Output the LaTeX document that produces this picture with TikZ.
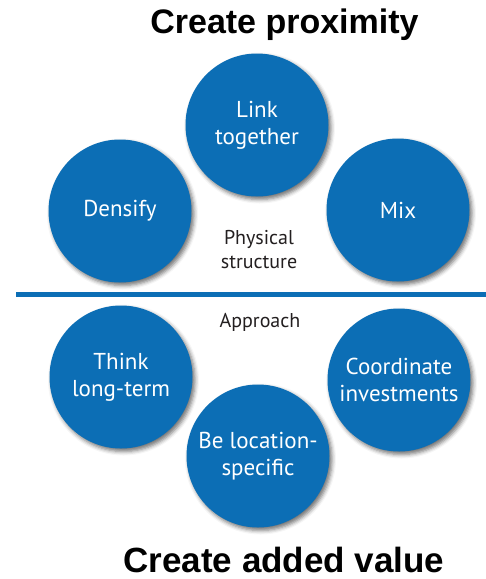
\documentclass[tikz,border=0pt]{standalone}
\usepackage{fontspec}
\setmainfont{PT Sans}
\newfontfamily\headfont{Liberation Sans}
\usetikzlibrary{shadows.blur}
\definecolor{discblue}{HTML}{0C6EB5}
\definecolor{inkgray}{HTML}{231F20}
\tikzset{
  disc/.style={circle, fill=discblue, minimum size=143pt, inner sep=0pt,
    text=white, align=center, font=\fontsize{23}{27}\selectfont,
    blur shadow={shadow xshift=2.5pt, shadow yshift=-3pt,
      shadow blur radius=4pt, shadow opacity=55}},
  captext/.style={text=inkgray, align=center, font=\fontsize{20}{24}\selectfont},
  headline/.style={text=black, anchor=base,
    font=\headfont\bfseries\fontsize{34}{40}\selectfont},
  divider/.style={draw=discblue, line width=5pt},
}
\begin{document}
\begin{tikzpicture}[x=1pt,y=-1pt]
\useasboundingbox (0,0) rectangle (486,579);

% headings
\node[headline] (top) at (284.5,33) {Create proximity};
\node[headline, font=\headfont\bfseries\fontsize{35}{40}\selectfont]
  (bottom) at (284,572) {Create added value};

% dividing rule
\coordinate (ruleL) at (16,294);
\coordinate (ruleR) at (486,294);
\draw[divider] (ruleL) -- (ruleR);

% physical structure
\node[disc] (link) at (257,125) {Link\\together};
\node[disc] (densify) at (120,211) {Densify};
\node[disc] (mix) at (398,210) {Mix};
\node[captext] (phys) at (259,250) {Physical\\structure};

% approach
\node[captext, anchor=base] (appr) at (260,327) {Approach};
\node[disc] (think) at (121,377) {Think\\long-term};
\node[disc] (coord) at (399,380) {Coordinate\\investments};
\node[disc] (loc) at (258,456) {Be location-\\specific};
\end{tikzpicture}
\end{document}
